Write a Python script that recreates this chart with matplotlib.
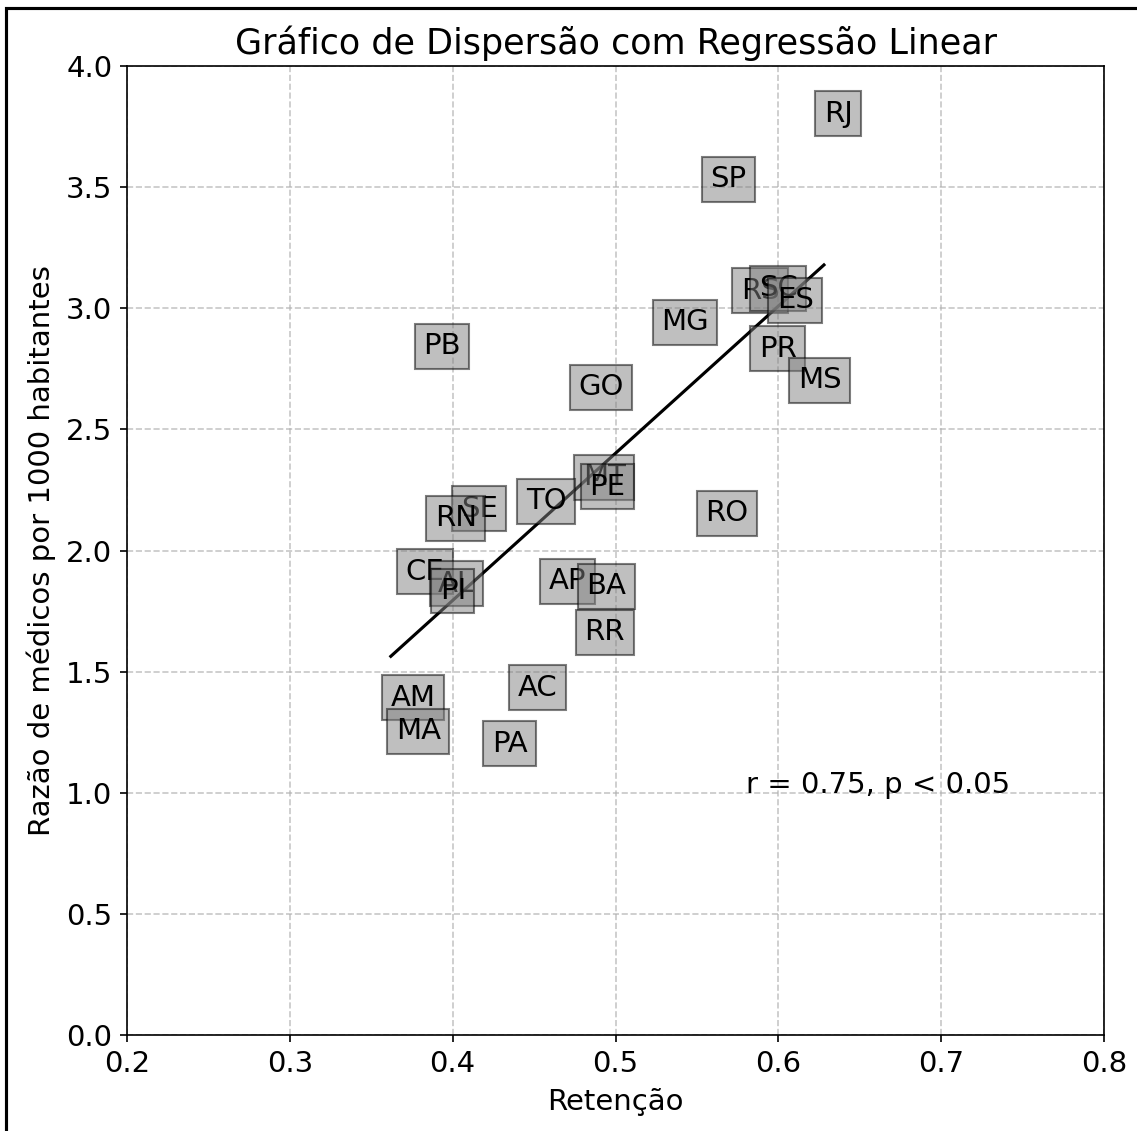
import numpy as np
import matplotlib.pyplot as plt
from matplotlib.patches import Rectangle

estados = ["RJ", "SP", "RS", "SC", "ES", "MG", "PR", "MS", "PB", "GO", "MT", "PE", "TO",
           "RO", "SE", "RN", "CE", "AL", "PI", "AP", "BA", "RR", "AC", "AM", "MA", "PA"]
retencao = [0.628, 0.558, 0.577, 0.588, 0.599, 0.528, 0.588, 0.612, 0.382, 0.477, 0.480, 0.484, 0.445,
            0.555, 0.405, 0.389, 0.371, 0.391, 0.392, 0.459, 0.482, 0.481, 0.440, 0.362, 0.365, 0.424]
razao_medicos = [3.77, 3.50, 3.04, 3.05, 3.00, 2.91, 2.80, 2.67, 2.81, 2.64, 2.27, 2.23, 2.17,
                 2.12, 2.14, 2.10, 1.88, 1.83, 1.80, 1.84, 1.82, 1.63, 1.40, 1.36, 1.22, 1.17]
r_texto = "r = 0.75, p < 0.05"

plt.rcParams['font.size'] = 14

x = np.array(retencao)
y = np.array(razao_medicos)

fig = plt.figure(figsize=(7.58, 7.54), dpi=150)
ax = fig.add_axes([0.1117, 0.0849, 0.8593, 0.8567])

for est, xi, yi in zip(estados, x, y):
	ax.text(xi, yi, est, fontsize=14,
		bbox=dict(facecolor='gray', edgecolor='black', alpha=0.5))

# regressao linear
coef = np.polyfit(x, y, 1)
xs = np.array([x.min(), x.max()])
ax.plot(xs, np.polyval(coef, xs), color='black', linewidth=1.5)

ax.text(0.58, 1.0, r_texto, fontsize=14)

ax.set_xlim(0.2, 0.8)
ax.set_ylim(0.0, 4.0)
ax.set_xticks(np.arange(0.2, 0.81, 0.1))
ax.set_yticks(np.arange(0.0, 4.01, 0.5))
ax.xaxis.set_major_formatter(plt.FormatStrFormatter('%.1f'))
ax.yaxis.set_major_formatter(plt.FormatStrFormatter('%.1f'))
ax.grid(True, linestyle='--', alpha=0.7)
ax.set_xlabel('Retenção', labelpad=5)
ax.set_ylabel('Razão de médicos por 1000 habitantes', labelpad=5)
ax.set_title('Gráfico de Dispersão com Regressão Linear')

# moldura da figura
fig.patches.append(Rectangle((6 / 1137, -0.5), 2.0, 1.5 - 8 / 1131, transform=fig.transFigure,
	fill=False, edgecolor='black', linewidth=1.5, clip_on=False))

fig.savefig('out.png', dpi=150)
